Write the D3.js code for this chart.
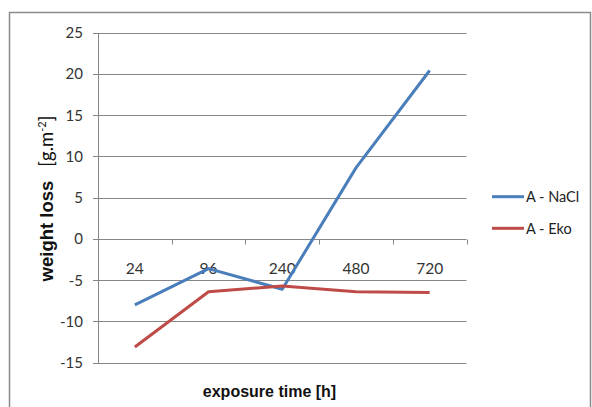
<!DOCTYPE html>
<html>
<head>
<meta charset="utf-8">
<script src="https://cdn.jsdelivr.net/npm/d3@7"></script>
<style>
  html, body { margin: 0; padding: 0; background: #fff; }
  svg { display: block; }
</style>
</head>
<body>
<svg id="chart" width="592" height="407"></svg>
<script>
const categories = ["24", "96", "240", "480", "720"];
const naclValues = [-8.0, -3.6, -6.1, 8.6, 20.4];
const ekoValues = [-13.1, -6.4, -5.7, -6.4, -6.5];
const yTicks = [-15, -10, -5, 0, 5, 10, 15, 20, 25];
const seriesNames = ["A - NaCl", "A - Eko"];
const seriesColors = ["#4A7EBB", "#BE4B48"];

const svg = d3.select("#chart");
const gridColor = "#868686";

// outer chart border
svg.append("path")
  .attr("d", "M9.5,407 L9.5,12.5 L590.5,12.5 L590.5,407")
  .attr("fill", "none").attr("stroke", "#8a8a8a").attr("stroke-width", 1.5);

const x = d3.scaleBand().domain(categories).range([98, 466.5]).padding(0);
const y = d3.scaleLinear().domain([-15, 25]).range([362.7, 32.5]);

// gridlines
svg.append("g").selectAll("line").data(yTicks).join("line")
  .attr("x1", 93).attr("x2", 466.5)
  .attr("y1", d => Math.round(y(d)) + 0.5).attr("y2", d => Math.round(y(d)) + 0.5)
  .attr("stroke", gridColor).attr("stroke-width", 1);

// y axis line
svg.append("line")
  .attr("x1", 98.5).attr("x2", 98.5)
  .attr("y1", Math.round(y(25)) + 0.5).attr("y2", Math.round(y(-15)) + 0.5)
  .attr("stroke", gridColor);

// y tick labels
svg.append("g").selectAll("text").data(yTicks).join("text")
  .attr("x", 83).attr("y", d => y(d) + 5.5)
  .attr("text-anchor", "end")
  .attr("font-family", "Lato, 'Open Sans', sans-serif").attr("font-size", 15)
  .attr("fill", "#333")
  .text(d => d);

// x axis at zero with tick marks at band boundaries
const y0 = Math.round(y(0)) + 0.5;
const boundaries = categories.map(c => x(c)).concat([x(categories[categories.length - 1]) + x.bandwidth()]);
svg.append("g").selectAll("line").data(boundaries).join("line")
  .attr("x1", d => Math.round(d) + 0.5).attr("x2", d => Math.round(d) + 0.5)
  .attr("y1", y0).attr("y2", y0 + 5)
  .attr("stroke", gridColor);

// category labels
svg.append("g").selectAll("text").data(categories).join("text")
  .attr("x", d => x(d) + x.bandwidth() / 2).attr("y", 274)
  .attr("text-anchor", "middle")
  .attr("font-family", "Lato, 'Open Sans', sans-serif").attr("font-size", 15.5)
  .attr("fill", "#333")
  .text(d => d);

// series lines
const line = d3.line()
  .x((d, i) => x(categories[i]) + x.bandwidth() / 2)
  .y(d => y(d));

[naclValues, ekoValues].forEach((vals, i) => {
  svg.append("path")
    .attr("d", line(vals))
    .attr("fill", "none")
    .attr("stroke", seriesColors[i])
    .attr("stroke-width", 3)
    .attr("stroke-linejoin", "round");
});

// legend
const legendY = [196.7, 228.3];
seriesNames.forEach((name, i) => {
  svg.append("line")
    .attr("x1", 492).attr("x2", 524)
    .attr("y1", legendY[i]).attr("y2", legendY[i])
    .attr("stroke", seriesColors[i]).attr("stroke-width", 3);
  svg.append("text")
    .attr("x", 526).attr("y", legendY[i] + 5.5)
    .attr("font-family", "Lato, 'Open Sans', sans-serif").attr("font-size", 14.5)
    .attr("fill", "#222")
    .text(name);
});

// x axis title
svg.append("text")
  .attr("x", 269.5).attr("y", 397)
  .attr("text-anchor", "middle")
  .attr("font-family", "'Liberation Sans', Arial, sans-serif")
  .attr("font-weight", "bold").attr("font-size", 16)
  .attr("fill", "#111")
  .text("exposure time [h]");

// y axis title
const yt = svg.append("text")
  .attr("transform", "translate(53,198.5) rotate(-90)")
  .attr("text-anchor", "middle")
  .attr("fill", "#111");
yt.append("tspan")
  .attr("font-family", "'Liberation Sans', Arial, sans-serif")
  .attr("font-weight", "bold").attr("font-size", 18.5)
  .text("weight loss");
yt.append("tspan")
  .attr("font-family", "Lato, 'Open Sans', sans-serif")
  .attr("font-size", 18.5)
  .attr("dx", 14)
  .text("[g.m");
yt.append("tspan")
  .attr("font-family", "Lato, 'Open Sans', sans-serif")
  .attr("font-size", 11)
  .attr("dy", -7)
  .text("-2");
yt.append("tspan")
  .attr("font-family", "Lato, 'Open Sans', sans-serif")
  .attr("font-size", 18.5)
  .attr("dy", 7)
  .text("]");
</script>
</body>
</html>
